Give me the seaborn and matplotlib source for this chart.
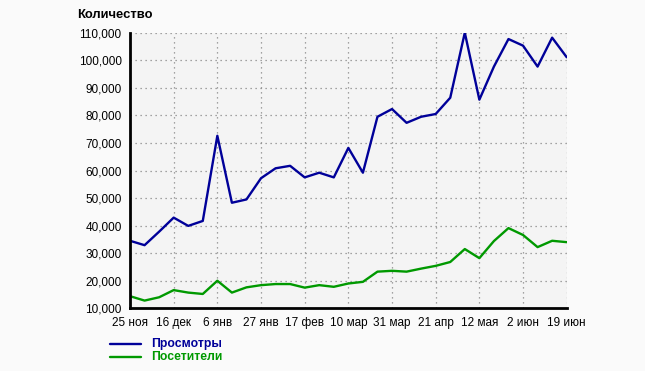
import matplotlib
matplotlib.use("Agg")
import matplotlib.pyplot as plt
import seaborn as sns
import pandas as pd
import numpy as np

tick_labels = ["25 ноя", "16 дек", "6 янв", "27 янв", "17 фев", "10 мар",
               "31 мар", "21 апр", "12 мая", "2 июн", "19 июн"]

views = [34500, 32900, 37800, 42900, 39900, 41700, 72600, 48300, 49500, 57200,
         60800, 61700, 57500, 59200, 57500, 68200, 59200, 79500, 82300, 77300,
         79500, 80500, 86400, 110000, 85700, 97700, 107700, 105300, 97700, 108200,
         101100]
visitors = [14400, 12800, 14000, 16600, 15700, 15200, 20000, 15700, 17600, 18400,
            18800, 18800, 17500, 18400, 17800, 19000, 19600, 23300, 23600, 23300,
            24400, 25400, 26800, 31500, 28200, 34400, 39100, 36600, 32200, 34500,
            34000]

idx = list(range(len(views)))
df = pd.DataFrame({
    "i": idx * 2,
    "value": views + visitors,
    "series": ["Просмотры"] * len(views) + ["Посетители"] * len(visitors),
})

sns.set_theme(style="white")
plt.rcParams["font.family"] = ["Liberation Sans", "DejaVu Sans"]

fig = plt.figure(figsize=(6.45, 3.71), dpi=100, facecolor="#fafafa")
ax = fig.add_axes([130 / 645, 1 - 308.3 / 371, 436.7 / 645, 275.6 / 371])
ax.set_facecolor("#f4f4f4")

palette = {"Просмотры": "#000099", "Посетители": "#009900"}
sns.lineplot(data=df, x="i", y="value", hue="series", palette=palette,
             linewidth=1.7, ax=ax, legend=False)

ax.set_xlim(0, 30)
ax.set_ylim(10000, 110000)
ax.set_xticks(list(range(0, 31, 3)))
ax.set_xticklabels(tick_labels)
yt = list(range(10000, 110001, 10000))
ax.set_yticks(yt)
ax.set_yticklabels([f"{v:,}" for v in yt])
ax.set_xlabel("")
ax.set_ylabel("")

ax.grid(True, linestyle=(0, (1, 3)), color="#888888", linewidth=0.9)
for s in ["top", "right"]:
    ax.spines[s].set_visible(False)
for s in ["left", "bottom"]:
    ax.spines[s].set_color("black")
    ax.spines[s].set_linewidth(2)
ax.tick_params(axis="both", direction="out", length=4, width=1.2, color="black",
               labelsize=8.5, labelcolor="black", pad=2)

fig.text(77 / 645, 1 - 15 / 371, "Количество", fontsize=9.4, fontweight="bold",
         ha="left", va="center", color="black")

# legend
for y, name in [(344, "Просмотры"), (356.7, "Посетители")]:
    yf = 1 - y / 371
    fig.add_artist(plt.Line2D([110 / 645, 141 / 645], [yf, yf],
                              color=palette[name], linewidth=1.7,
                              transform=fig.transFigure))
    fig.text(151 / 645, yf, name, fontsize=8.8, fontweight="bold",
             color=palette[name], ha="left", va="center")

fig.savefig("out.png", dpi=100, facecolor=fig.get_facecolor())
